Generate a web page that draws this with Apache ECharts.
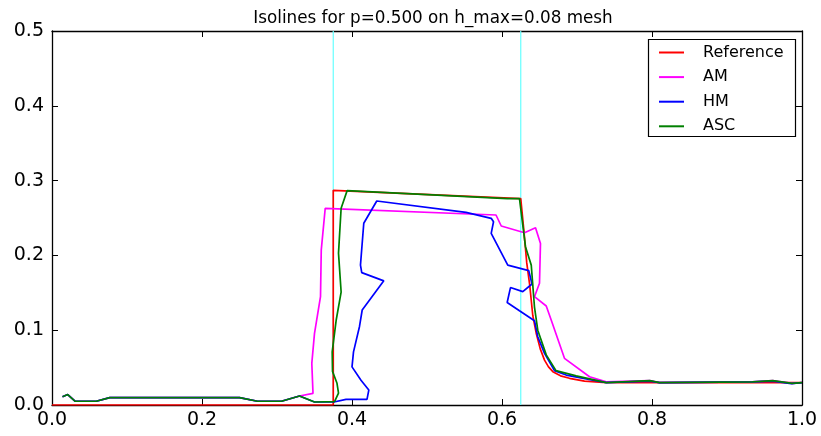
<!DOCTYPE html>
<html>
<head>
<meta charset="utf-8">
<script src="https://cdn.jsdelivr.net/npm/echarts@6/dist/echarts.min.js"></script>
<style>html,body{margin:0;padding:0;background:#fff;}#c{width:821px;height:436px;}</style>
</head>
<body>
<div id="c"></div>
<script>
const titleText = 'Isolines for p=0.500 on h_max=0.08 mesh';
const seriesNames = ['Reference', 'AM', 'HM', 'ASC'];
const xTicks = [0, 0.2, 0.4, 0.6, 0.8, 1.0];
const yTicks = [0, 0.1, 0.2, 0.3, 0.4, 0.5];
const guideX = [0.375, 0.625];

const referencePts = [[0,0],[0.375,0],[0.375,0.287],[0.625,0.276],[0.629,0.235],[0.633,0.19],[0.637,0.16],[0.641,0.12],[0.6456,0.096],[0.651,0.075],[0.6567,0.060],[0.662,0.051],[0.6678,0.0446],[0.678,0.039],[0.69,0.0357],[0.71,0.032],[0.7344,0.0303],[0.76,0.030],[1.0,0.030]];

const amPts = [[0.014,0.011],[0.021,0.014],[0.031,0.005],[0.059,0.005],[0.077,0.0098],[0.25,0.0098],[0.274,0.005],[0.306,0.005],[0.33,0.012],[0.348,0.0156],[0.3464,0.0557],[0.35,0.0958],[0.358,0.1448],[0.359,0.207],[0.3643,0.263],[0.592,0.254],[0.599,0.2393],[0.63,0.2303],[0.6447,0.237],[0.6513,0.216],[0.65,0.1627],[0.6433,0.1448],[0.659,0.1323],[0.6656,0.1136],[0.6833,0.0624],[0.7167,0.0378],[0.739,0.031],[0.797,0.0325],[0.81,0.030],[0.934,0.031],[0.961,0.0325],[0.987,0.029],[1.0,0.030]];

const hmPts = [[0.014,0.011],[0.021,0.014],[0.031,0.005],[0.059,0.005],[0.077,0.0098],[0.25,0.0098],[0.274,0.005],[0.306,0.005],[0.33,0.012],[0.35,0.004],[0.376,0.004],[0.392,0.0076],[0.42,0.0076],[0.4224,0.020],[0.412,0.033],[0.40,0.051],[0.402,0.071],[0.41,0.105],[0.4136,0.127],[0.4424,0.166],[0.413,0.177],[0.4113,0.187],[0.4157,0.243],[0.433,0.2727],[0.552,0.2576],[0.5856,0.2496],[0.5887,0.245],[0.5856,0.2295],[0.6077,0.187],[0.6357,0.1796],[0.640,0.1618],[0.6277,0.1515],[0.6113,0.157],[0.6069,0.137],[0.6233,0.126],[0.6433,0.1127],[0.6477,0.0913],[0.6567,0.069],[0.67,0.046],[0.6856,0.040],[0.739,0.030],[0.797,0.032],[0.81,0.030],[0.934,0.031],[0.961,0.032],[0.9856,0.0285],[1.0,0.030]];

const ascPts = [[0.014,0.011],[0.021,0.014],[0.031,0.005],[0.059,0.005],[0.077,0.0098],[0.25,0.0098],[0.274,0.005],[0.306,0.005],[0.33,0.012],[0.35,0.004],[0.3767,0.0045],[0.382,0.016],[0.38,0.029],[0.374,0.045],[0.3736,0.071],[0.379,0.114],[0.3855,0.151],[0.382,0.203],[0.3855,0.263],[0.3935,0.2866],[0.607,0.276],[0.6233,0.276],[0.6313,0.2116],[0.639,0.187],[0.6433,0.131],[0.6477,0.100],[0.659,0.067],[0.672,0.046],[0.699,0.039],[0.739,0.030],[0.797,0.0325],[0.81,0.030],[0.934,0.031],[0.961,0.0325],[0.987,0.029],[1.0,0.030]];

const colors = ['#ff0000', '#ff00ff', '#0000ff', '#008000'];
const allPts = [referencePts, amPts, hmPts, ascPts];

const FONT = 'DejaVu Sans';
const chart = echarts.init(document.getElementById('c'), null, {renderer: 'canvas'});

function axisCommon(show) {
  return {
    type: 'value',
    axisLine: {show: true, onZero: false, lineStyle: {color: '#000', width: 1.3}},
    axisTick: {show: true, inside: true, length: 6, lineStyle: {color: '#000', width: 1}},
    splitLine: {show: false},
    axisLabel: {show: show, color: '#000', fontFamily: FONT, fontSize: 19, formatter: v => v.toFixed(1)}
  };
}

const series = [];
guideX.forEach(gx => {
  series.push({
    type: 'line', data: [[gx, yTicks[0]], [gx, yTicks[yTicks.length - 1]]],
    symbol: 'none', silent: true, z: 1,
    lineStyle: {color: '#66ffff', width: 1.2}
  });
});
seriesNames.forEach((n, i) => {
  series.push({
    name: n, type: 'line', data: allPts[i], symbol: 'none', z: 2 + i,
    lineStyle: {color: colors[i], width: 1.7}, itemStyle: {color: colors[i]}
  });
});

chart.setOption({
  animation: false,
  backgroundColor: '#fff',
  title: {
    text: titleText, left: 428, top: 5, textAlign: 'center',
    textStyle: {fontFamily: FONT, fontSize: 16.8, fontWeight: 'normal', color: '#000'}
  },
  grid: {left: 52, right: 19, top: 31, bottom: 31},
  xAxis: [
    Object.assign(axisCommon(true), {min: xTicks[0], max: xTicks[xTicks.length-1], interval: 0.2, position: 'bottom', axisLabel: Object.assign(axisCommon(true).axisLabel, {margin: 6})}),
    Object.assign(axisCommon(false), {min: xTicks[0], max: xTicks[xTicks.length-1], interval: 0.2, position: 'top'})
  ],
  yAxis: [
    Object.assign(axisCommon(true), {min: yTicks[0], max: yTicks[yTicks.length-1], interval: 0.1, position: 'left', axisLabel: Object.assign(axisCommon(true).axisLabel, {margin: 8})}),
    Object.assign(axisCommon(false), {min: yTicks[0], max: yTicks[yTicks.length-1], interval: 0.1, position: 'right'})
  ],
  legend: {
    data: seriesNames, orient: 'vertical', left: 659, top: 43.5, padding: 0,
    icon: 'rect', itemWidth: 25, itemHeight: 2, itemGap: 6.6, z: 10,
    textStyle: {fontFamily: FONT, fontSize: 16, color: '#000', lineHeight: 18, padding: [0, 0, 0, 14]}
  },
  graphic: [{
    type: 'rect', z: 5, shape: {x: 648.5, y: 39.5, width: 147, height: 97},
    style: {fill: '#fff', stroke: '#000', lineWidth: 1.2}
  }],
  series: series
});
</script>
</body>
</html>
